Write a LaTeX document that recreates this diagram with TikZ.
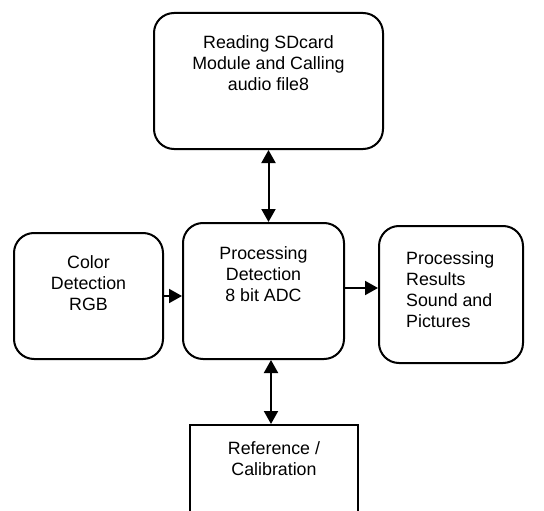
\documentclass[tikz,border=0pt]{standalone}
\usepackage{fontspec}
\setmainfont{Liberation Sans}
\usetikzlibrary{arrows.meta}
\usetikzlibrary{positioning}

\begin{document}
\begin{tikzpicture}[x=1pt, y=-1pt, font=\fontsize{17.8}{21}\selectfont]
	\tikzstyle{roundBox} = [draw, line width=2pt, rounded corners=20pt, anchor=north west, inner sep=0pt]
	\tikzstyle{plainBox} = [draw, line width=2pt, anchor=north west, inner sep=0pt]
	\tikzstyle{boxText} = [inner sep=0pt, align=center]
	\tikzstyle{oneWay} = [line width=2pt, -{Triangle[width=14pt,length=13pt]}]
	\tikzstyle{twoWay} = [line width=2pt, {Triangle[width=14pt,length=13pt]}-{Triangle[width=14pt,length=13pt]}]
	\useasboundingbox (0,0) rectangle (544,511);
	\node[roundBox, minimum width=229pt, minimum height=136pt] (sdcard) at (153,12) {};
	\node[roundBox, minimum width=149pt, minimum height=126pt] (color) at (13,232) {};
	\node[roundBox, minimum width=161pt, minimum height=136pt] (process) at (182,222) {};
	\node[roundBox, minimum width=144pt, minimum height=137pt] (results) at (378,225) {};
	\node[plainBox, minimum width=168pt, minimum height=110pt] (calib) at (189,424) {};
	\node[boxText, below=23.5pt of sdcard.north] (sdcardText) {Reading SDcard\\Module and Calling\\audio file8};
	\node[boxText, below=23pt of color.north] (colorText) {Color\\Detection\\RGB};
	\node[boxText, below=24pt of process.north] (processText) {Processing\\Detection\\8 bit ADC};
	\node[boxText, align=left, below right=26pt and 28pt of results.north west] (resultsText) {Processing\\Results\\Sound and\\Pictures};
	\node[boxText, below=17pt of calib.north] (calibText) {Reference /\\Calibration};
	\draw[twoWay] (sdcard.south) -- (sdcard.south |- process.north);
	\draw[oneWay] (color.east) -- (color.east -| process.west);
	\draw[oneWay] ([yshift=3pt]process.east) -- ([yshift=3pt]process.east -| results.west);
	\draw[twoWay] ([xshift=-3pt]calib.north |- process.south) -- ([xshift=-3pt]calib.north);
\end{tikzpicture}
\end{document}
